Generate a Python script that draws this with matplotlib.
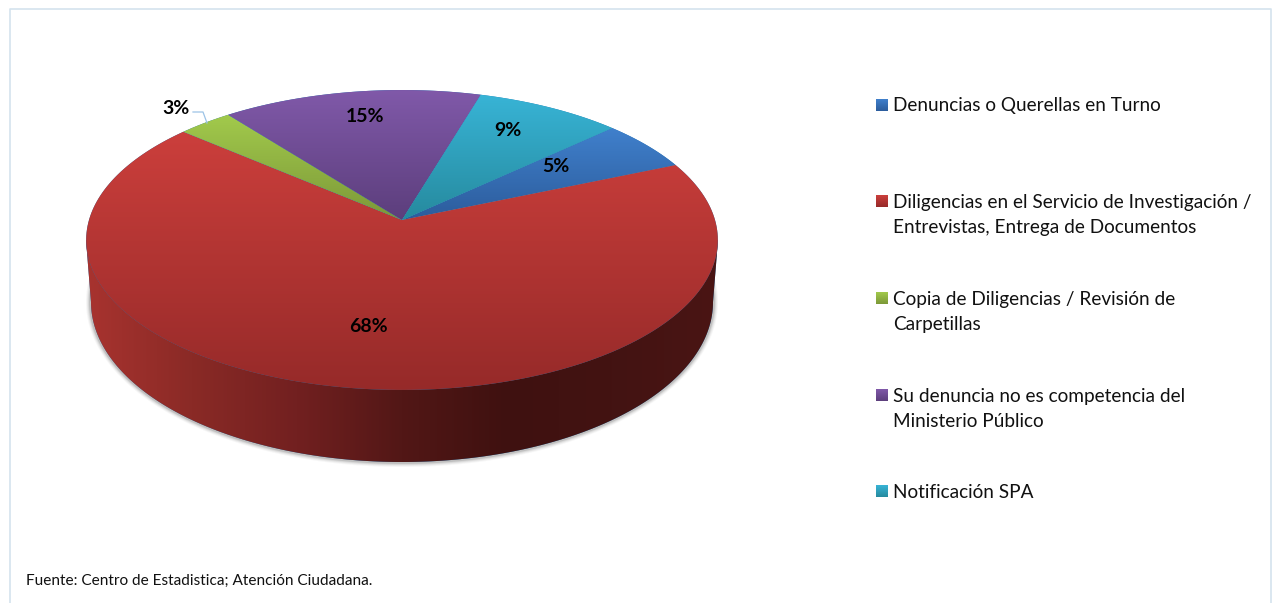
import numpy as np
import matplotlib
matplotlib.use("Agg")
import matplotlib.pyplot as plt
from matplotlib.colors import LinearSegmentedColormap
from matplotlib.patches import Polygon

plt.rcParams['font.family'] = ['Lato', 'DejaVu Sans']

categories = ["Denuncias o Querellas en Turno",
              "Diligencias en el Servicio de Investigación /\nEntrevistas, Entrega de Documentos",
              "Copia de Diligencias / Revisión de\nCarpetillas",
              "Su denuncia no es competencia del\nMinisterio Público",
              "Notificación SPA"]
values = [5.5, 67.7, 3.2, 15.1, 8.5]
pct_labels = ["5%", "68%", "3%", "15%", "9%"]
source = "Fuente: Centro de Estadistica; Atención Ciudadana."

# colores del degradado (arriba, abajo)
top_colors = ["#4080cc", "#cc3f3c", "#a2ca4c", "#8059a9", "#38b4d6"]
low_colors = ["#2c5c9c", "#962a29", "#7c9838", "#5c3e7c", "#268a9e"]

label_pos = [(556, 167), (368, 327), (176, 108), (365, 116), (508, 131)]
legend_y = [105, 214, 311, 408, 491]

CX, CY = 402, 220
A, B, K = 147.3, 313.0, 0.1333
START = 42.9


def project(angle):
    """Círculo unitario -> píxeles, con un poco de perspectiva"""
    u, v = np.cos(angle), np.sin(angle)
    d = 1 + K * v
    return CX + B * u / d, CY - A * v / d


def gradient(ax, patch, colors, x0, x1, y0, y1, horizontal=False):
    cmap = LinearSegmentedColormap.from_list("g", colors)
    g = np.linspace(0, 1, 256)
    g = g.reshape(1, -1) if horizontal else g.reshape(-1, 1)
    ax.add_patch(patch)
    im = ax.imshow(g, cmap=cmap, extent=(x0, x1, y1, y0), aspect="auto",
                   interpolation="bilinear", zorder=patch.get_zorder())
    im.set_clip_path(patch)


fig = plt.figure(figsize=(12.72, 6.03), dpi=100)
ax = fig.add_axes([0, 0, 1, 1])
ax.axis("off")

# marco
ax.plot([9.5, 9.5, 1270.5, 1270.5], [603, 8.5, 8.5, 603], color="#d4e3ee", lw=1.2)

# sombra y lateral
t = np.linspace(np.pi - 0.5, 2 * np.pi + 0.5, 300)
for grow, alpha in [(5, 0.05), (4, 0.08), (3, 0.12), (2, 0.2)]:
    sx = 402 + (311 + grow) * np.cos(t)
    sy = 302 - (160 + grow) * np.sin(t)
    ax.add_patch(Polygon(np.c_[sx, sy], closed=True, fc="#606060", ec="none",
                         alpha=alpha, zorder=1))
t = np.linspace(np.pi, 2 * np.pi, 300)
bx, by = 402 + 311 * np.cos(t), 302 - 160 * np.sin(t)
wall = np.r_[[[86, 240]], np.c_[bx, by], [[718, 240]]]
gradient(ax, Polygon(wall, closed=True, ec="none", zorder=2),
         ["#a8332f", "#8a2a26", "#722020", "#521716", "#3f1110", "#431312", "#4a1514"],
         86, 718, 240, 470, horizontal=True)

# cara superior
edges = np.r_[0, np.cumsum(values)] / np.sum(values) * 2 * np.pi
edges = np.deg2rad(START) - edges
for i in range(len(values)):
    a = np.linspace(edges[i], edges[i + 1], 200)
    px, py = project(a)
    pts = np.r_[[[CX, CY]], np.c_[px, py]]
    gradient(ax, Polygon(pts, closed=True, ec="none", zorder=3),
             [top_colors[i], low_colors[i]], 80, 725,
             py.min() if i != 1 else 130, CY if i != 1 else 390)

# etiquetas
for lab, (x, y) in zip(pct_labels, label_pos):
    ax.text(x, y, lab, ha="center", va="center", fontsize=14, fontweight="bold",
            color="black", zorder=5)
ax.plot([193, 203, 207], [112, 112, 123], color="#9cc3e6", lw=0.9, zorder=5)

# leyenda
for i, cat in enumerate(categories):
    y = legend_y[i]
    sq_y = y - 13 if "\n" in cat else y
    sq = Polygon([[876, sq_y - 6], [888, sq_y - 6], [888, sq_y + 6], [876, sq_y + 6]],
                 closed=True, ec="none", zorder=3)
    gradient(ax, sq, [top_colors[i], low_colors[i]], 876, 888, sq_y - 6, sq_y + 6)
    ax.text(893, y + 1, cat, ha="left", va="center", fontsize=13.65, color="#111111",
            linespacing=1.58)

ax.text(26, 581, source, ha="left", va="center", fontsize=11.1, color="#111111")

ax.set_xlim(0, 1272)
ax.set_ylim(603, 0)
fig.savefig("out.png", dpi=100)
